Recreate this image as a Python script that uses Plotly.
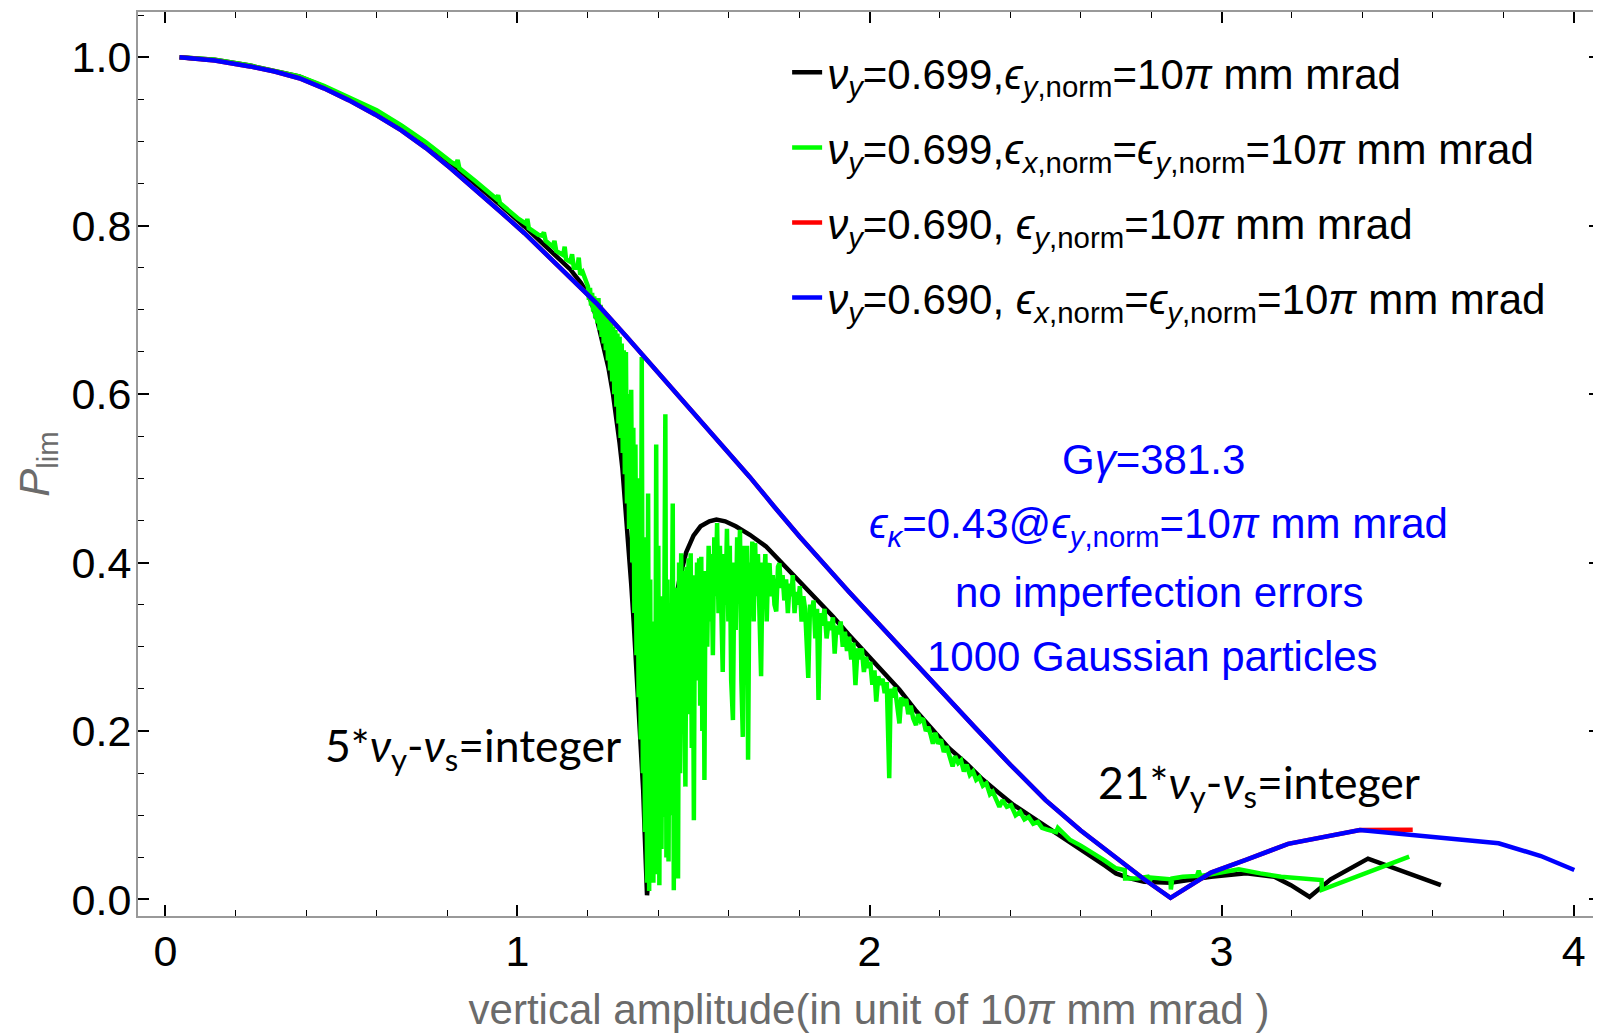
import plotly.graph_objects as go

# ---------------- data ----------------
black_x = [0.04, 0.14, 0.24, 0.31, 0.38, 0.45, 0.52, 0.595, 0.67, 0.74, 0.81, 0.88, 0.95, 1.02, 1.09,
           1.15, 1.18, 1.205, 1.225, 1.243, 1.258, 1.271, 1.281, 1.290, 1.298, 1.304, 1.310, 1.314,
           1.319, 1.323, 1.330, 1.337, 1.345, 1.352, 1.357, 1.361, 1.365, 1.368, 1.380, 1.390, 1.400,
           1.410, 1.420, 1.432, 1.445, 1.460, 1.479, 1.500, 1.520, 1.545, 1.565, 1.590, 1.620, 1.660,
           1.706, 1.750, 1.800, 1.850, 1.896, 1.940, 1.990, 2.040, 2.085, 2.130, 2.179, 2.225, 2.274,
           2.320, 2.369, 2.410, 2.454, 2.510, 2.570, 2.630, 2.670, 2.700, 2.740, 2.780, 2.820, 2.854,
           2.970, 3.070, 3.150, 3.197, 3.250, 3.310, 3.416, 3.623]
black_y = [1.000, 0.997, 0.990, 0.984, 0.977, 0.965, 0.951, 0.936, 0.918, 0.897, 0.874, 0.850, 0.825, 0.799, 0.772,
           0.748, 0.732, 0.715, 0.690, 0.660, 0.632, 0.601, 0.573, 0.542, 0.512, 0.482, 0.452, 0.423,
           0.398, 0.375, 0.330, 0.280, 0.230, 0.181, 0.130, 0.083, 0.040, 0.005, 0.070, 0.130, 0.180,
           0.225, 0.265, 0.305, 0.345, 0.380, 0.412, 0.432, 0.443, 0.449, 0.451, 0.449, 0.443, 0.433,
           0.419, 0.400, 0.379, 0.357, 0.336, 0.315, 0.292, 0.270, 0.249, 0.225, 0.201, 0.180, 0.162,
           0.143, 0.126, 0.112, 0.100, 0.0845, 0.068, 0.052, 0.040, 0.031, 0.025, 0.021, 0.020, 0.020,
           0.027, 0.031, 0.027, 0.017, 0.003, 0.024, 0.0485, 0.017]

green_x = [0.04, 0.14, 0.24, 0.31, 0.38, 0.45, 0.52, 0.60, 0.67, 0.74, 0.81, 0.825, 0.83, 0.835, 0.88,
           0.94, 0.945, 0.95, 1.00, 1.025, 1.028, 1.032, 1.06, 1.07, 1.075, 1.08, 1.10, 1.105, 1.11,
           1.13, 1.134, 1.138, 1.15, 1.155, 1.16, 1.17, 1.174, 1.178, 1.185, 1.19, 1.195,
           1.200, 1.203, 1.206, 1.209, 1.212, 1.215, 1.218, 1.221, 1.224, 1.227, 1.230, 1.233, 1.236,
           1.239, 1.242, 1.245, 1.248, 1.251, 1.254, 1.257, 1.260, 1.263, 1.266, 1.269, 1.272, 1.275,
           1.278, 1.281, 1.284, 1.287, 1.290, 1.293, 1.296, 1.299, 1.302, 1.305, 1.308, 1.311, 1.314,
           1.317, 1.320, 1.323, 1.326, 1.329, 1.332, 1.335, 1.338, 1.341, 1.344, 1.347, 1.350, 1.353,
           1.356, 1.359, 1.362, 1.365, 1.368, 1.371, 1.374, 1.377, 1.380, 1.383, 1.386, 1.389, 1.391,
           1.394, 1.397, 1.400, 1.403, 1.406, 1.409, 1.412, 1.414, 1.417, 1.420, 1.423, 1.426, 1.429,
           1.432, 1.435, 1.438, 1.441, 1.444, 1.447, 1.450, 1.453, 1.456, 1.459, 1.462, 1.465, 1.468,
           1.471, 1.474, 1.477, 1.480, 1.483, 1.486, 1.489, 1.492, 1.495, 1.498, 1.501, 1.504, 1.507,
           1.510, 1.513, 1.516, 1.519, 1.522, 1.525, 1.528, 1.531, 1.534,
           1.539, 1.543, 1.547, 1.551, 1.555, 1.559, 1.563, 1.567, 1.571,
           1.575, 1.579, 1.583, 1.587, 1.591, 1.595, 1.599, 1.603, 1.607, 1.612, 1.616, 1.620, 1.624,
           1.628, 1.632, 1.636, 1.640, 1.644, 1.648, 1.652, 1.655, 1.659, 1.663, 1.667, 1.671, 1.675,
           1.679, 1.683, 1.688, 1.692, 1.696, 1.700, 1.704, 1.708, 1.712, 1.716, 1.720, 1.725, 1.730,
           1.735, 1.740, 1.744, 1.748, 1.753, 1.758, 1.763, 1.768, 1.773, 1.778, 1.782, 1.787, 1.792,
           1.797, 1.802, 1.807, 1.812, 1.817, 1.822, 1.826, 1.831, 1.836, 1.841, 1.846, 1.851, 1.855,
           1.860, 1.866, 1.872, 1.878, 1.884, 1.890, 1.896, 1.901, 1.906, 1.912, 1.918, 1.924, 1.930,
           1.936, 1.942, 1.948, 1.954, 1.960, 1.966, 1.972, 1.978, 1.984, 1.990, 1.996, 2.002, 2.008,
           2.014, 2.019, 2.025, 2.031, 2.037, 2.043, 2.049, 2.056, 2.060, 2.066, 2.072, 2.078, 2.085,
           2.090, 2.097, 2.104, 2.110, 2.117, 2.124, 2.132, 2.138, 2.145, 2.152, 2.160, 2.167, 2.174,
           2.180, 2.187, 2.195, 2.203, 2.211, 2.219, 2.228, 2.236, 2.243, 2.252, 2.260, 2.268, 2.276,
           2.285, 2.294, 2.303, 2.312, 2.322, 2.332, 2.342, 2.350, 2.360, 2.369, 2.378, 2.390, 2.402,
           2.415, 2.428, 2.440, 2.452, 2.465, 2.478, 2.490, 2.505, 2.530, 2.535, 2.570, 2.600, 2.630,
           2.665, 2.700, 2.725, 2.726, 2.760, 2.790, 2.795, 2.800, 2.855, 2.856, 2.860, 2.890, 2.930,
           2.935, 2.940, 2.970, 3.010, 3.049, 3.110, 3.169, 3.284, 3.285, 3.533]
green_y = [1.000, 0.997, 0.990, 0.984, 0.977, 0.966, 0.952, 0.937, 0.919, 0.899, 0.876, 0.872, 0.878, 0.868, 0.853,
           0.832, 0.836, 0.827, 0.809, 0.802, 0.808, 0.797, 0.789, 0.788, 0.792, 0.782, 0.775, 0.782, 0.770,
           0.765, 0.775, 0.760, 0.757, 0.766, 0.750, 0.750, 0.762, 0.742, 0.745, 0.739, 0.730,
           0.728, 0.712, 0.726, 0.705, 0.720, 0.698, 0.716, 0.690, 0.712, 0.684, 0.714, 0.676, 0.706,
           0.668, 0.700, 0.660, 0.696, 0.652, 0.690, 0.640, 0.688, 0.628, 0.684, 0.615, 0.680, 0.600,
           0.676, 0.585, 0.672, 0.565, 0.668, 0.548, 0.660, 0.530, 0.652, 0.505, 0.650, 0.470, 0.600,
           0.440, 0.585, 0.605, 0.400, 0.560, 0.340, 0.540, 0.290, 0.500, 0.240, 0.470, 0.190, 0.644,
           0.150, 0.430, 0.080, 0.400, 0.020, 0.482, 0.010, 0.380, 0.040, 0.330, 0.020, 0.300, 0.059,
           0.540, 0.030, 0.420, 0.017, 0.360, 0.060, 0.320, 0.098, 0.430, 0.576, 0.050, 0.380, 0.045,
           0.330, 0.100, 0.300, 0.470, 0.011, 0.370, 0.080, 0.350, 0.025, 0.400, 0.150, 0.411, 0.200,
           0.390, 0.250, 0.134, 0.395, 0.280, 0.405, 0.220, 0.411, 0.180, 0.370, 0.094, 0.385, 0.260,
           0.400, 0.300, 0.405, 0.230, 0.407, 0.200, 0.380, 0.142, 0.390,
           0.300, 0.420, 0.330, 0.410, 0.290, 0.430, 0.360, 0.447, 0.340,
           0.420, 0.300, 0.270, 0.410, 0.350, 0.440, 0.330, 0.420, 0.260, 0.213, 0.400, 0.320, 0.430,
           0.380, 0.439, 0.260, 0.193, 0.420, 0.300, 0.420, 0.166, 0.400, 0.350, 0.425, 0.330, 0.423,
           0.360, 0.410, 0.300, 0.265, 0.400, 0.370, 0.410, 0.330, 0.395, 0.399, 0.360, 0.385, 0.350,
           0.342, 0.395, 0.399, 0.370, 0.385, 0.355, 0.380, 0.340, 0.375, 0.360, 0.385, 0.340, 0.365,
           0.350, 0.372, 0.330, 0.360, 0.345, 0.300, 0.263, 0.350, 0.340, 0.355, 0.310, 0.345, 0.237,
           0.340, 0.325, 0.345, 0.310, 0.330, 0.320, 0.335, 0.292, 0.325, 0.315, 0.330, 0.300, 0.318,
           0.295, 0.312, 0.285, 0.305, 0.2546, 0.298, 0.285, 0.298, 0.270, 0.288, 0.275, 0.282, 0.255,
           0.272, 0.235, 0.265, 0.255, 0.262, 0.245, 0.258, 0.144, 0.250, 0.240, 0.252, 0.232, 0.209,
           0.240, 0.230, 0.238, 0.220, 0.230, 0.215, 0.207, 0.220, 0.212, 0.215, 0.200, 0.205, 0.195,
           0.185, 0.198, 0.185, 0.190, 0.175, 0.182, 0.168, 0.158, 0.170, 0.162, 0.165, 0.152, 0.160,
           0.148, 0.152, 0.142, 0.145, 0.135, 0.138, 0.125, 0.128, 0.118, 0.110, 0.118, 0.110, 0.112,
           0.100, 0.104, 0.095, 0.098, 0.090, 0.092, 0.085, 0.083, 0.080, 0.085, 0.0706, 0.064, 0.0568,
           0.047, 0.037, 0.035, 0.025, 0.025, 0.027, 0.021, 0.026, 0.024, 0.012, 0.025, 0.027, 0.028,
           0.034, 0.028, 0.030, 0.033, 0.036, 0.031, 0.027, 0.023, 0.0115, 0.0508]

red_x = [0.04, 0.14, 0.24, 0.31, 0.38, 0.45, 0.52, 0.595, 0.67, 0.74, 0.81, 0.88, 0.95, 1.02, 1.09,
         1.16, 1.224, 1.31, 1.40, 1.49, 1.574, 1.659, 1.730, 1.801, 1.940, 2.085, 2.200, 2.300, 2.400,
         2.500, 2.600, 2.700, 2.780, 2.855, 2.970, 3.069, 3.189, 3.393, 3.543]
red_y = [1.000, 0.996, 0.989, 0.983, 0.975, 0.963, 0.949, 0.932, 0.913, 0.892, 0.868, 0.843, 0.817, 0.791, 0.763,
         0.735, 0.708, 0.668, 0.625, 0.583, 0.542, 0.502, 0.466, 0.431, 0.366, 0.300, 0.249, 0.204, 0.160,
         0.118, 0.082, 0.050, 0.024, 0.002, 0.032, 0.047, 0.066, 0.0825, 0.0828]

blue_x = [0.04, 0.14, 0.24, 0.31, 0.38, 0.45, 0.52, 0.595, 0.67, 0.74, 0.81, 0.88, 0.95, 1.02, 1.09,
          1.16, 1.224, 1.31, 1.40, 1.49, 1.574, 1.659, 1.730, 1.801, 1.940, 2.085, 2.200, 2.300, 2.400,
          2.500, 2.600, 2.700, 2.780, 2.855, 2.970, 3.069, 3.189, 3.393, 3.787, 3.907, 4.002]
blue_y = [1.000, 0.996, 0.989, 0.983, 0.975, 0.963, 0.949, 0.932, 0.913, 0.892, 0.868, 0.843, 0.817, 0.791, 0.763,
          0.735, 0.708, 0.668, 0.625, 0.583, 0.542, 0.502, 0.466, 0.431, 0.366, 0.300, 0.249, 0.204, 0.160,
          0.118, 0.082, 0.050, 0.024, 0.002, 0.032, 0.047, 0.066, 0.0825, 0.0667, 0.0516, 0.035]

x_ticks = [0, 1, 2, 3, 4]
y_ticks = [0.0, 0.2, 0.4, 0.6, 0.8, 1.0]

names = [
    "<i>ν</i><sub><i>y</i></sub>=0.699,<i>ϵ</i><sub><i>y</i>,norm</sub>=10<i>π</i> mm mrad",
    "<i>ν</i><sub><i>y</i></sub>=0.699,<i>ϵ</i><sub><i>x</i>,norm</sub>=<i>ϵ</i><sub><i>y</i>,norm</sub>=10<i>π</i> mm mrad",
    "<i>ν</i><sub><i>y</i></sub>=0.690, <i>ϵ</i><sub><i>y</i>,norm</sub>=10<i>π</i> mm mrad",
    "<i>ν</i><sub><i>y</i></sub>=0.690, <i>ϵ</i><sub><i>x</i>,norm</sub>=<i>ϵ</i><sub><i>y</i>,norm</sub>=10<i>π</i> mm mrad",
]
colors = ["#000000", "#00ff00", "#ff0000", "#0000ff"]

FONT = "Liberation Sans, Arial, sans-serif"

fig = go.Figure()
for i, (xs, ys) in enumerate([(black_x, black_y), (green_x, green_y), (red_x, red_y), (blue_x, blue_y)]):
    fig.add_trace(go.Scatter(x=xs, y=ys, mode="lines", name=names[i],
                             line=dict(color=colors[i], width=4.5),
                             legendgroup=f"g{i}"))

axis_common = dict(
    showgrid=False, zeroline=False, showline=True, linecolor="#999999", linewidth=2,
    mirror="allticks", ticks="inside", ticklen=11, tickwidth=1.5, tickcolor="#000000",
    tickfont=dict(family=FONT, size=43, color="#000000"), automargin=False,
    ticklabelstandoff=-4,
)

# page body has an 8px default margin, so the figure is offset by 8px
fig.update_layout(
    width=1601, height=1035,
    margin=dict(l=130, r=9, t=4, b=127),
    paper_bgcolor="white", plot_bgcolor="white",
    font=dict(family=FONT, size=42, color="#000000"),
    xaxis=dict(range=[-0.078, 4.075], tickvals=x_ticks, ticktext=[str(v) for v in x_ticks],
               minor=dict(dtick=0.2, tick0=0, ticks="inside", ticklen=6, tickwidth=1.2, tickcolor="#000000"),
               title=dict(text="vertical amplitude(in unit of 10<i>π</i> mm mrad )",
                          font=dict(family=FONT, size=42, color="#6b6b6b"), standoff=21),
               **axis_common),
    yaxis=dict(range=[-0.0196, 1.0536], tickvals=y_ticks, ticktext=[f"{v:.1f}" for v in y_ticks],
               minor=dict(dtick=0.05, tick0=0, ticks="inside", ticklen=6, tickwidth=1.2, tickcolor="#000000"),
               title=dict(text="<i>P</i><sub>lim</sub>",
                          font=dict(family=FONT, size=42, color="#6b6b6b"), standoff=9),
               **axis_common),
    legend=dict(x=0.444, y=0.9707, xanchor="left", yanchor="top", bgcolor="rgba(0,0,0,0)",
                font=dict(family=FONT, size=42, color="#000000"), tracegroupgap=17.5,
                itemwidth=30),
    showlegend=True,
)

blue_txt = dict(family=FONT, size=42, color="#0000ff")
ann = [
    (2.806, 0.5223, "G<i>γ</i>=381.3", blue_txt),
    (2.820, 0.4428, "<i>ϵ</i><sub><i>κ</i></sub>=0.43@<i>ϵ</i><sub><i>y</i>,norm</sub>=10<i>π</i> mm mrad", blue_txt),
    (2.824, 0.365, "no imperfection errors", blue_txt),
    (2.804, 0.2885, "1000 Gaussian particles", blue_txt),
]
for x, y, t, f in ann:
    fig.add_annotation(x=x, y=y, xref="x", yref="y", text=t, showarrow=False, font=f,
                       xanchor="center", yanchor="middle")

cal = dict(family="Lato, Carlito, Open Sans, sans-serif", size=44.5, color="#000000")
fig.add_annotation(x=0.875, y=0.180, xref="x", yref="y",
                   text="5*<i>ν</i><sub>y</sub>-<i>ν</i><sub>s</sub>=integer",
                   showarrow=False, font=cal, xanchor="center", yanchor="middle")
fig.add_annotation(x=3.105, y=0.136, xref="x", yref="y",
                   text="21*<i>ν</i><sub>y</sub>-<i>ν</i><sub>s</sub>=integer",
                   showarrow=False, font=cal, xanchor="center", yanchor="middle")

fig.write_html("out.html")
